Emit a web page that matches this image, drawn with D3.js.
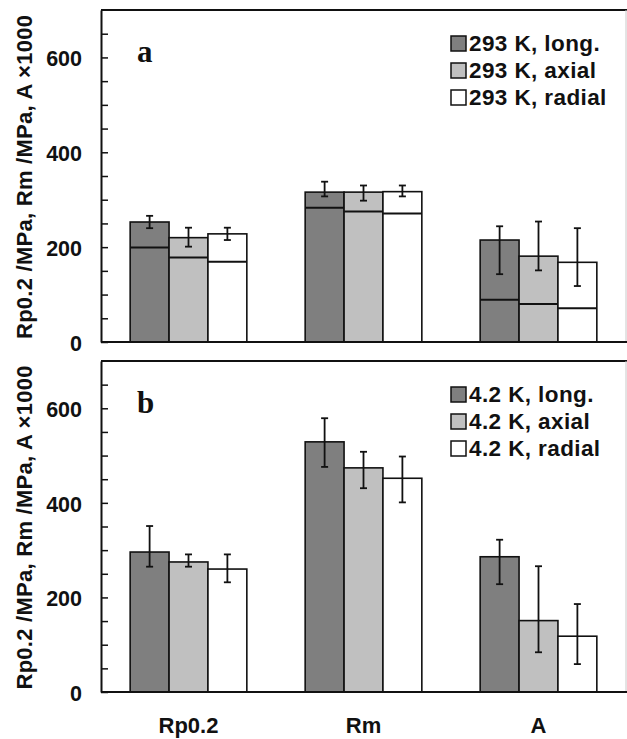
<!DOCTYPE html>
<html>
<head>
<meta charset="utf-8">
<script src="https://cdn.jsdelivr.net/npm/d3@7"></script>
<style>
  html, body { margin: 0; padding: 0; background: #fff; }
  svg { display: block; }
</style>
</head>
<body>
<svg id="chart" width="627" height="739"></svg>
<script>
// ---------- data ----------
const categories = ["Rp0.2", "Rm", "A"];
const seriesKeys = ["long.", "axial", "radial"];
const seriesColors = ["#7f7f7f", "#c0c0c0", "#ffffff"];
const tickValuesY = [0, 50, 100, 150, 200, 250, 300, 350, 400, 450, 500, 550, 600, 650];
const tickLabelsY = ["0", "200", "400", "600"];
const yTitle = "Rp0.2 /MPa, Rm /MPa, A ×1000";

// Panel a: 293 K
const tempA = "293 K";
const longA   = [253, 316, 215];
const axialA  = [220, 316, 181];
const radialA = [228, 317, 168];
const longA_inner   = [199, 283, 89];
const axialA_inner  = [178, 275, 80];
const radialA_inner = [169, 271, 71];
const longA_lo   = [240, 307, 143];
const longA_hi   = [266, 338, 244];
const axialA_lo  = [201, 298, 151];
const axialA_hi  = [241, 330, 254];
const radialA_lo = [215, 307, 118];
const radialA_hi = [241, 330, 240];

// Panel b: 4.2 K
const tempB = "4.2 K";
const longB   = [296, 529, 286];
const axialB  = [275, 474, 151];
const radialB = [260, 452, 118];
const longB_lo   = [265, 476, 228];
const longB_hi   = [351, 579, 322];
const axialB_lo  = [265, 431, 84];
const axialB_hi  = [291, 508, 266];
const radialB_lo = [232, 401, 59];
const radialB_hi = [291, 498, 186];

// ---------- layout ----------
const svg = d3.select("#chart");
const plotLeft = 101, plotRight = 626;
const sansFont = "'Liberation Sans', Arial, sans-serif";

const x0 = d3.scaleBand().domain(categories).range([plotLeft, plotRight])
  .paddingInner(1/3).paddingOuter(1/6);
const x1 = d3.scaleBand().domain(seriesKeys).range([0, x0.bandwidth()]).padding(0);

function buildRows(vals, inner, lo, hi) {
  const rows = [];
  categories.forEach((c, i) => {
    seriesKeys.forEach((s, j) => {
      rows.push({
        cat: c, key: s, color: seriesColors[j],
        v: vals[j][i],
        inner: inner ? inner[j][i] : null,
        lo: lo[j][i], hi: hi[j][i]
      });
    });
  });
  return rows;
}

function drawPanel(top, bottom, label, temp, rows) {
  const y = d3.scaleLinear().domain([0, 700]).range([bottom, top]);
  const g = svg.append("g");

  // bars
  g.selectAll("rect.bar").data(rows).enter().append("rect")
    .attr("class", "bar")
    .attr("x", d => x0(d.cat) + x1(d.key))
    .attr("y", d => y(d.v))
    .attr("width", x1.bandwidth())
    .attr("height", d => y(0) - y(d.v))
    .attr("fill", d => d.color)
    .attr("stroke", "#111")
    .attr("stroke-width", 1.6);

  // inner lines
  g.selectAll("line.inner").data(rows.filter(d => d.inner !== null)).enter().append("line")
    .attr("x1", d => x0(d.cat) + x1(d.key))
    .attr("x2", d => x0(d.cat) + x1(d.key) + x1.bandwidth())
    .attr("y1", d => y(d.inner)).attr("y2", d => y(d.inner))
    .attr("stroke", "#111").attr("stroke-width", 2);

  // error bars
  const cx = d => x0(d.cat) + x1(d.key) + x1.bandwidth() / 2;
  const eb = g.selectAll("g.err").data(rows).enter().append("g");
  eb.append("line").attr("x1", cx).attr("x2", cx)
    .attr("y1", d => y(d.lo)).attr("y2", d => y(d.hi))
    .attr("stroke", "#111").attr("stroke-width", 1.8);
  ["lo", "hi"].forEach(k => {
    eb.append("line")
      .attr("x1", d => cx(d) - 3.5).attr("x2", d => cx(d) + 3.5)
      .attr("y1", d => y(d[k])).attr("y2", d => y(d[k]))
      .attr("stroke", "#111").attr("stroke-width", 1.8);
  });

  // frame: top, right (light)
  g.append("line").attr("x1", plotLeft).attr("x2", 627).attr("y1", top).attr("y2", top)
    .attr("stroke", "#111").attr("stroke-width", 2);
  g.append("line").attr("x1", plotRight).attr("x2", plotRight).attr("y1", top).attr("y2", bottom)
    .attr("stroke", "#c8c8c8").attr("stroke-width", 1);
  // bottom axis line
  g.append("line").attr("x1", plotLeft).attr("x2", 627).attr("y1", bottom).attr("y2", bottom)
    .attr("stroke", "#111").attr("stroke-width", 2);

  // y axis
  const axis = d3.axisLeft(y).tickValues(tickValuesY)
    .tickSizeInner(-7).tickSizeOuter(0).tickPadding(19)
    .tickFormat(v => tickLabelsY.includes(String(v)) ? String(v) : "");
  const ag = g.append("g").attr("transform", `translate(${plotLeft},0)`).call(axis);
  ag.select(".domain").attr("stroke", "#111").attr("stroke-width", 2);
  ag.selectAll(".tick line").attr("stroke", "#111").attr("stroke-width", 1.5);
  ag.selectAll(".tick text").attr("font-family", sansFont).attr("font-weight", "bold")
    .attr("font-size", 21.5).attr("fill", "#111").attr("dy", "0.38em");

  // y title
  g.append("text")
    .attr("transform", `translate(32,${(top + bottom) / 2 + 1}) rotate(-90)`)
    .attr("text-anchor", "middle")
    .attr("font-family", sansFont).attr("font-weight", "bold").attr("font-size", 22)
    .attr("textLength", 324).attr("lengthAdjust", "spacing")
    .attr("fill", "#111")
    .text(yTitle);

  // panel label
  g.append("text").attr("x", 137).attr("y", top + 52)
    .attr("font-family", "'Liberation Serif', 'Times New Roman', serif")
    .attr("font-weight", "bold").attr("font-size", 31).attr("fill", "#111")
    .text(label);

  // legend
  seriesKeys.forEach((s, j) => {
    const by = top + 41 + j * 27;
    g.append("rect").attr("x", 451).attr("y", by - 15).attr("width", 15).attr("height", 15)
      .attr("fill", seriesColors[j]).attr("stroke", "#111").attr("stroke-width", 1.5);
    g.append("text").attr("x", 469).attr("y", by)
      .attr("font-family", sansFont).attr("font-weight", "bold").attr("font-size", 22.5)
      .attr("letter-spacing", 0.4)
      .attr("fill", "#111")
      .text(`${temp}, ${s}`);
  });
  return y;
}

drawPanel(10, 342, "a", tempA,
  buildRows([longA, axialA, radialA], [longA_inner, axialA_inner, radialA_inner],
            [longA_lo, axialA_lo, radialA_lo], [longA_hi, axialA_hi, radialA_hi]));
drawPanel(361, 692, "b", tempB,
  buildRows([longB, axialB, radialB], null,
            [longB_lo, axialB_lo, radialB_lo], [longB_hi, axialB_hi, radialB_hi]));

// x category labels
svg.append("g").selectAll("text").data(categories).enter().append("text")
  .attr("x", d => x0(d) + x0.bandwidth() / 2)
  .attr("y", 733)
  .attr("text-anchor", "middle")
  .attr("font-family", sansFont).attr("font-weight", "bold").attr("font-size", 22)
  .attr("fill", "#111")
  .text(d => d);
</script>
</body>
</html>
